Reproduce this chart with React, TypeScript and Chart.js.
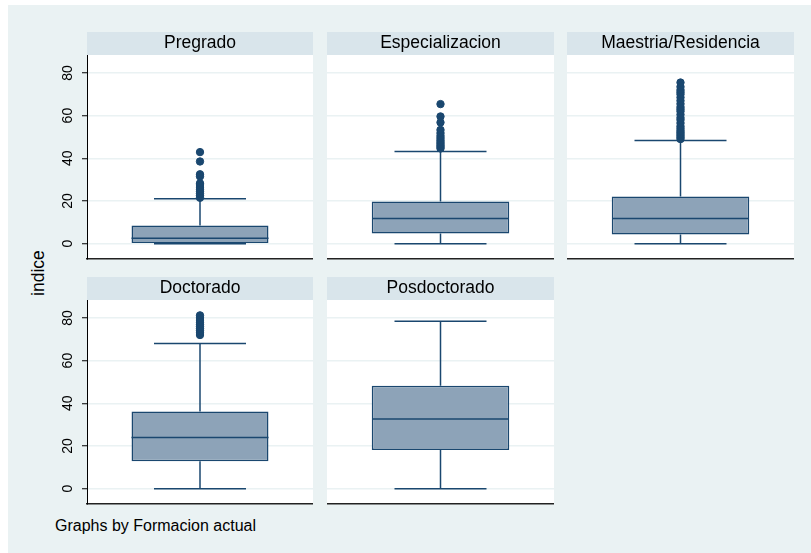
import React, { useEffect, useRef } from "react";
import { Chart, registerables } from "chart.js";

Chart.register(...registerables);

// ---------- data ----------
const panelNames = ["Pregrado", "Especializacion", "Maestria/Residencia", "Doctorado", "Posdoctorado"];
const lowerWhisker = [0, 0, 0, 0, 0];
const quartile1 = [0, 4.7, 4.3, 12.8, 18.1];
const medians = [2.5, 11.8, 11.8, 24.0, 32.6];
const quartile3 = [8.5, 19.8, 22.1, 36.2, 48.2];
const upperWhisker = [21.0, 43.2, 48.3, 68.0, 78.4];

const outliersPregrado = [21.5, 22.5, 23.5, 24.5, 25.5, 26.5, 27.5, 28.3, 31.5, 32.5, 38.5, 42.9];
const outliersEspecializacion = [44.6, 45.3, 46.0, 46.8, 47.6, 48.5, 49.5, 50.5, 51.8, 53.3, 56.8, 59.6, 65.4];
const outliersMaestria = [
  49.0, 49.8, 50.6, 51.4, 52.2, 53.0, 54.0, 55.0, 56.5, 58.0, 59.0, 60.5, 62.0, 63.0, 64.0, 65.5, 67.0,
  68.5, 70.0, 71.0, 72.0, 73.5, 75.5,
];
const outliersDoctorado = [72.0, 73.0, 74.0, 75.0, 76.0, 77.0, 78.0, 79.0, 80.0, 81.2];
const outliersPosdoctorado: number[] = [];
const outlierLists = [outliersPregrado, outliersEspecializacion, outliersMaestria, outliersDoctorado, outliersPosdoctorado];

const yTicks = [0, 20, 40, 60, 80];
const yMin = -7.2;
const yMax = 88.4;
const yAxisTitle = "indice";
const footnote = "Graphs by Formacion actual";

// ---------- styles ----------
const FONT = "'Liberation Sans', Arial, Helvetica, sans-serif";
const OUTER_BG = "#eaf2f3";
const HEADER_BG = "#d9e5eb";
const BOX_FILL = "#8da3b8";
const NAVY = "#1a476f";
const GRID = "#eaf2f3";

const panelBackground = {
  id: "panelBackground",
  beforeDraw(chart: any) {
    const { ctx, chartArea: a } = chart;
    const t = chart.titleBlock;
    ctx.save();
    if (t) {
      ctx.fillStyle = HEADER_BG;
      ctx.fillRect(a.left, t.top, a.right - a.left, t.bottom - t.top);
    }
    ctx.fillStyle = "#ffffff";
    ctx.fillRect(a.left, a.top, a.right - a.left, a.bottom - a.top);
    ctx.restore();
  },
};

type PanelProps = { index: number; showAxis: boolean; left: number; top: number; width: number; height: number };

function Panel({ index, showAxis, left, top, width, height }: PanelProps) {
  const ref = useRef<HTMLCanvasElement | null>(null);

  useEffect(() => {
    if (!ref.current) return;
    const name = panelNames[index];
    const pt = (y: number) => ({ x: name, y });
    const chart = new Chart(ref.current, {
      type: "bar",
      data: {
        labels: [name],
        datasets: [
          {
            type: "line",
            label: "outliers",
            data: outlierLists[index].map(pt),
            showLine: false,
            pointStyle: "circle",
            pointRadius: 3.7,
            pointBorderWidth: 1,
            pointBackgroundColor: NAVY,
            pointBorderColor: NAVY,
            order: 0,
          },
          {
            type: "line",
            label: "median",
            data: [pt(medians[index])],
            showLine: false,
            pointStyle: "line",
            pointRadius: 68.5,
            pointBorderWidth: 1.5,
            pointBorderColor: NAVY,
            order: 1,
          },
          {
            type: "line",
            label: "whisker caps",
            data: [pt(lowerWhisker[index]), pt(upperWhisker[index])],
            showLine: false,
            pointStyle: "line",
            pointRadius: 46,
            pointBorderWidth: 1.5,
            pointBorderColor: NAVY,
            order: 2,
          },
          {
            type: "line",
            label: "upper whisker",
            data: [pt(quartile3[index]), pt(upperWhisker[index])],
            borderColor: NAVY,
            borderWidth: 1.5,
            pointRadius: 0,
            order: 3,
          },
          {
            type: "line",
            label: "lower whisker",
            data: [pt(lowerWhisker[index]), pt(quartile1[index])],
            borderColor: NAVY,
            borderWidth: 1.5,
            pointRadius: 0,
            order: 4,
          },
          {
            type: "bar",
            label: "box",
            data: [[quartile1[index], quartile3[index]]] as any,
            backgroundColor: BOX_FILL,
            borderColor: NAVY,
            borderWidth: 1.5,
            borderSkipped: false,
            barPercentage: 0.606,
            categoryPercentage: 1,
            grouped: false,
            order: 5,
          },
        ] as any,
      },
      options: {
        animation: false,
        responsive: false,
        events: [],
        layout: { autoPadding: false, padding: { top: 0, bottom: 3, left: 0, right: 0 } },
        plugins: {
          legend: { display: false },
          tooltip: { enabled: false },
          title: {
            display: true,
            text: name,
            fullSize: false,
            color: "#000",
            font: { family: FONT, size: 17.5, weight: "normal" as any, lineHeight: 1.2 },
            padding: { top: 1, bottom: 1 },
          },
        },
        scales: {
          x: {
            type: "category",
            display: true,
            offset: true,
            grid: { display: false, drawTicks: false },
            ticks: { display: false },
            border: { display: true, color: "#222", width: 1.5 },
            afterFit: (s: any) => {
              s.height = 0;
              s.paddingLeft = 0;
              s.paddingRight = 0;
            },
          },
          y: {
            type: "linear",
            min: yMin,
            max: yMax,
            afterBuildTicks: (s: any) => {
              s.ticks = yTicks.map((v) => ({ value: v }));
            },
            afterCalculateLabelRotation: (s: any) => {
              s.labelRotation = 90;
            },
            afterFit: (s: any) => {
              s.width = showAxis ? 37 : 0;
              s.paddingTop = 0;
              s.paddingBottom = 0;
            },
            grid: {
              color: GRID,
              lineWidth: 1.5,
              drawTicks: showAxis,
              tickLength: 5,
              tickColor: "#000",
              tickWidth: 1,
            },
            border: { display: showAxis, color: "#000", width: 1 },
            ticks: {
              display: showAxis,
              autoSkip: false,
              minRotation: 90,
              maxRotation: 90,
              crossAlign: "center",
              padding: 6,
              color: "#000",
              font: { family: FONT, size: 14 },
            },
          },
        },
      } as any,
      plugins: [panelBackground],
    });
    return () => chart.destroy();
  }, [index, showAxis]);

  return (
    <canvas
      ref={ref}
      width={width}
      height={height}
      style={{ position: "absolute", left, top, width, height, display: "block" }}
    />
  );
}

const panelLayout = [
  { index: 0, showAxis: true, left: 50, top: 32, width: 263, height: 230 },
  { index: 1, showAxis: false, left: 327, top: 32, width: 227, height: 230 },
  { index: 2, showAxis: false, left: 567, top: 32, width: 227, height: 230 },
  { index: 3, showAxis: true, left: 50, top: 277, width: 263, height: 230 },
  { index: 4, showAxis: false, left: 327, top: 277, width: 227, height: 230 },
];

export default function App() {
  return (
    <div
      style={{
        position: "absolute",
        left: 0,
        top: 0,
        width: 811,
        height: 553,
        background: "#fff",
        overflow: "hidden",
        fontFamily: FONT,
      }}
    >
      <div style={{ position: "absolute", left: 8, top: 5, width: 803, height: 548, background: OUTER_BG }} />
      {panelLayout.map((p) => (
        <Panel key={p.index} {...p} />
      ))}
      <div
        style={{
          position: "absolute",
          left: -12,
          top: 263,
          width: 100,
          height: 20,
          lineHeight: "20px",
          fontSize: 17.5,
          textAlign: "center",
          color: "#000",
          transform: "rotate(-90deg)",
          transformOrigin: "50% 50%",
          whiteSpace: "nowrap",
        }}
      >
        {yAxisTitle}
      </div>
      <div
        style={{
          position: "absolute",
          left: 55,
          top: 518,
          fontSize: 16,
          lineHeight: "16px",
          color: "#000",
          whiteSpace: "nowrap",
        }}
      >
        {footnote}
      </div>
    </div>
  );
}
